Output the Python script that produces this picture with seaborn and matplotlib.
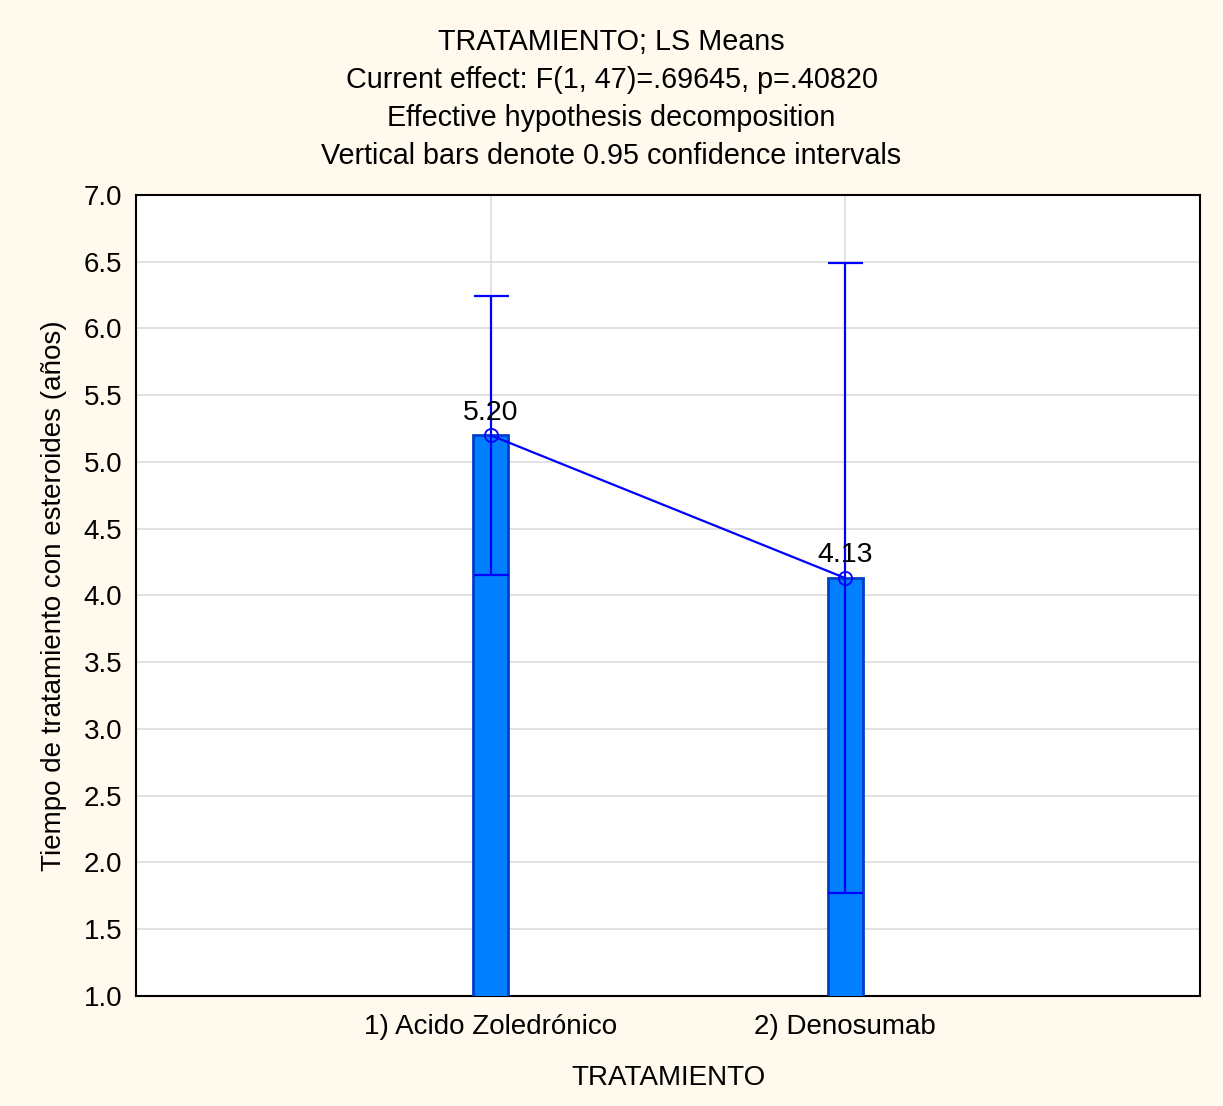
import matplotlib
matplotlib.use("Agg")
import matplotlib.pyplot as plt
import seaborn as sns
import pandas as pd
import numpy as np

categories = ["1) Acido Zoledrónico", "2) Denosumab"]
means = [5.20, 4.13]
ci_lower = [4.155, 1.77]
ci_upper = [6.24, 6.49]
y_ticks = [1.0, 1.5, 2.0, 2.5, 3.0, 3.5, 4.0, 4.5, 5.0, 5.5, 6.0, 6.5, 7.0]
title_lines = ["TRATAMIENTO; LS Means",
               "Current effect: F(1, 47)=.69645, p=.40820",
               "Effective hypothesis decomposition",
               "Vertical bars denote 0.95 confidence intervals"]

sns.set_theme(style="white")
plt.rcParams['font.family'] = ['Liberation Sans', 'DejaVu Sans']
plt.rcParams['text.color'] = 'black'
plt.rcParams['axes.labelcolor'] = 'black'

FS = 20

bg = "#FFF9EE"
fig = plt.figure(figsize=(12.23, 11.06), dpi=100, facecolor=bg)
ax = fig.add_axes([0.1112, 0.0995, 0.8700, 0.7242])
ax.set_facecolor("white")

df = pd.DataFrame({"TRATAMIENTO": categories, "mean": means})
sns.barplot(data=df, x="TRATAMIENTO", y="mean", order=categories, ax=ax,
            color="#0080FF", saturation=1, width=0.1, edgecolor="#0040C8",
            linewidth=2, errorbar=None, zorder=3)

pos = np.arange(len(categories))
m = np.array(means)
lo = m - np.array(ci_lower)
hi = np.array(ci_upper) - m
ax.errorbar(pos, m, yerr=[lo, hi], fmt="none", ecolor="#0000FF",
            elinewidth=1.6, capsize=12.6, capthick=1.6, zorder=4)
ax.plot(pos, m, color="#0000FF", lw=1.6, marker="o", markersize=9.5,
        markerfacecolor="none", markeredgecolor="#0000FF", markeredgewidth=1.3,
        zorder=5)
for p, v in zip(pos, means):
    ax.annotate(f"{v:.2f}", (p, v), xytext=(0, 7), textcoords="offset points",
                ha="center", va="bottom", fontsize=FS + 0.5, color="black", zorder=6)

ax.set_xlim(-1, 2)
ax.set_ylim(1.0, 7.0)
ax.set_yticks(y_ticks)
ax.set_yticklabels([f"{t:.1f}" for t in y_ticks])
ax.set_xticks(pos)
ax.set_xticklabels(categories)
ax.grid(True, color="#DCDCDC", lw=1.2, zorder=0)
ax.set_axisbelow(True)
for s in ax.spines.values():
    s.set_color("black")
    s.set_linewidth(1.5)
ax.tick_params(axis="both", direction="in", length=5, width=1.2, colors="black",
               labelsize=FS, pad=13)
ax.tick_params(axis="y", pad=10)
ax.set_xlabel("TRATAMIENTO", fontsize=FS, labelpad=18, color="black")
ax.set_ylabel("Tiempo de tratamiento con esteroides (años)", fontsize=FS,
              labelpad=12, color="black")

fig.text(0.5, 0.9745, "\n".join(title_lines), ha="center", va="top",
         fontsize=20.7, linespacing=1.45, color="black")

fig.savefig("out.png", dpi=100, facecolor=bg)
